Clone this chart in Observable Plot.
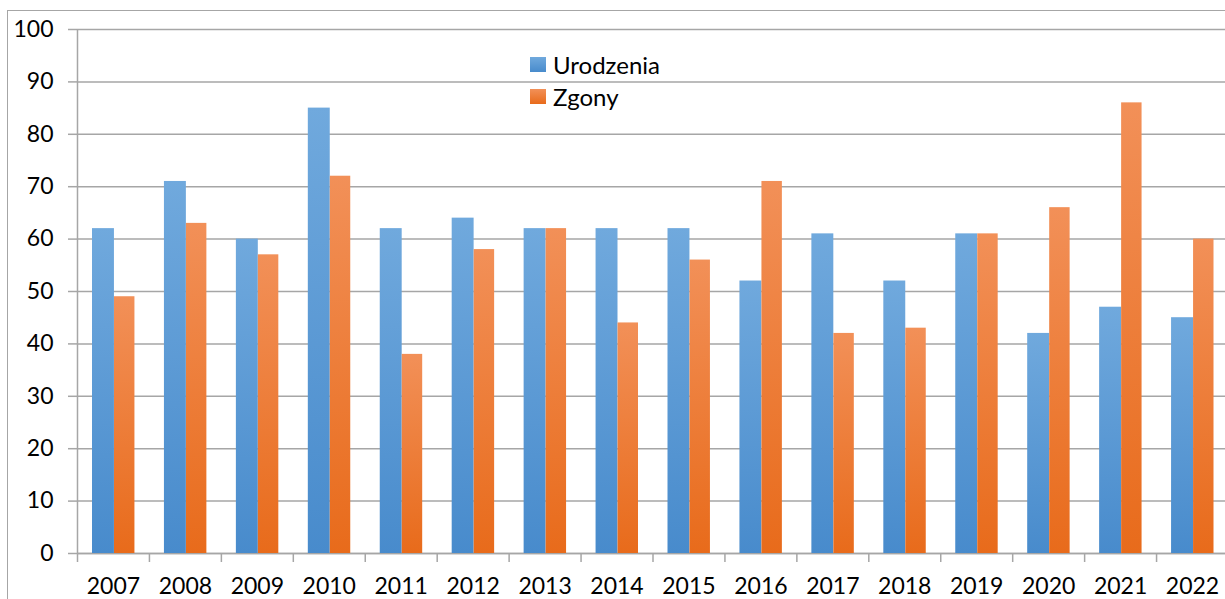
<!DOCTYPE html>
<html>
<head>
<meta charset="utf-8">
<script src="https://cdn.jsdelivr.net/npm/d3@7"></script>
<script src="https://cdn.jsdelivr.net/npm/@observablehq/plot@0.6"></script>
<style>
  html, body { margin: 0; padding: 0; background: #fff; overflow: hidden; }
  #wrap { position: relative; width: 1225px; height: 599px; }
  #border { position: absolute; left: 7px; top: 10px; width: 1240px; height: 620px; border: 1px solid #a6a6a6; box-sizing: border-box; }
  #chart { position: absolute; left: 0; top: 0; }
  #legend { position: absolute; left: 530px; top: 48px; font-family: Lato, sans-serif; font-size: 24px; color: #000; }
  .item { display: flex; align-items: center; height: 32px; }
  .sw { width: 16px; height: 15px; margin-right: 7px; }
</style>
</head>
<body>
<div id="wrap">
  <div id="chart"></div>
  <div id="border"></div>
  <div id="legend"></div>
</div>
<script>
const years = ["2007","2008","2009","2010","2011","2012","2013","2014","2015","2016","2017","2018","2019","2020","2021","2022"];
const urodzenia = [62, 71, 60, 85, 62, 64, 62, 62, 62, 52, 61, 52, 61, 42, 47, 45];
const zgony = [49, 63, 57, 72, 38, 58, 62, 44, 56, 71, 42, 43, 61, 66, 86, 60];
const seriesNames = ["Urodzenia", "Zgony"];
const yTicks = [0, 10, 20, 30, 40, 50, 60, 70, 80, 90, 100];

const dataU = years.map((year, i) => ({year, value: urodzenia[i]}));
const dataZ = years.map((year, i) => ({year, value: zgony[i]}));

const gridColor = "#a6a6a6";

const plot = Plot.plot({
  width: 1225,
  height: 599,
  marginTop: 29,
  marginBottom: 46,
  marginLeft: 77,
  marginRight: 0,
  style: {fontFamily: "Lato, sans-serif", fontSize: "23px", color: "#000", background: "transparent"},
  x: {domain: years, range: [77, 1228], padding: 0, round: false, label: null},
  y: {domain: [0, 100], label: null},
  marks: [
    Plot.gridY(yTicks, {stroke: gridColor, strokeOpacity: 1, strokeWidth: 1.5}),
    Plot.axisY({ticks: yTicks, tickSize: 9, tickPadding: 15, stroke: gridColor, strokeWidth: 1.5, fontSize: 23, fill: "#000", label: null}),
    Plot.ruleY([0], {stroke: gridColor, strokeWidth: 1.5}),
    Plot.ruleX([years[0]], {y1: 0, y2: 100, dx: -35.97, stroke: gridColor, strokeWidth: 1.5}),
    Plot.axisX({tickSize: 9, tickFormat: () => "", dx: -35.97, stroke: gridColor, strokeWidth: 1.5, label: null}),
    Plot.axisX({tickSize: 0, tickPadding: 24, fontSize: 23, fill: "#000", label: null}),
    Plot.barY(dataU, {x: "year", y: "value", fill: "url(#gradBlue)", insetLeft: 15, insetRight: 35}),
    Plot.barY(dataZ, {x: "year", y: "value", fill: "url(#gradOrange)", insetLeft: 37, insetRight: 14.5})
  ]
});

const defs = `
<defs>
  <linearGradient id="gradBlue" x1="0" y1="0" x2="0" y2="1">
    <stop offset="0" stop-color="#70a9dd"/>
    <stop offset="1" stop-color="#488bcc"/>
  </linearGradient>
  <linearGradient id="gradOrange" x1="0" y1="0" x2="0" y2="1">
    <stop offset="0" stop-color="#f29058"/>
    <stop offset="1" stop-color="#e86b1b"/>
  </linearGradient>
</defs>`;
plot.insertAdjacentHTML("afterbegin", defs);
document.getElementById("chart").appendChild(plot);

const legend = document.getElementById("legend");
const legendFills = ["linear-gradient(#70a9dd, #488bcc)", "linear-gradient(#f29058, #e86b1b)"];
seriesNames.forEach((name, i) => {
  const item = document.createElement("div");
  item.className = "item";
  const sw = document.createElement("div");
  sw.className = "sw";
  sw.style.background = legendFills[i];
  const label = document.createElement("span");
  label.textContent = name;
  item.appendChild(sw);
  item.appendChild(label);
  legend.appendChild(item);
});
</script>
</body>
</html>
